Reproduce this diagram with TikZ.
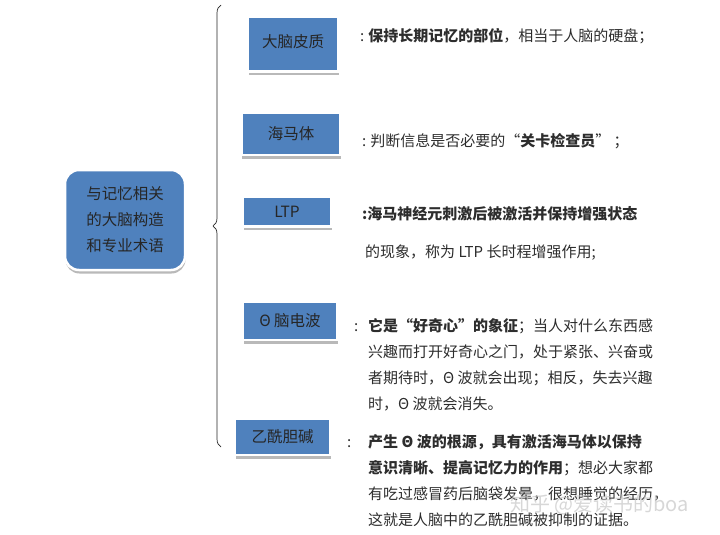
\documentclass[tikz,border=0pt]{standalone}
\usepackage{fontspec}
\setmainfont{Noto Sans CJK SC}
\usetikzlibrary{shadows,decorations.pathreplacing}
\definecolor{boxblue}{RGB}{79,129,189}
\definecolor{txtgray}{RGB}{45,45,45}

\begin{document}
\begin{tikzpicture}[x=1pt, y=-1pt,
    box/.style={fill=boxblue, draw=white, line width=2.5pt, inner sep=0pt, text=black!85, font=\fontsize{15.5}{26}\selectfont,
        drop shadow={shadow xshift=0.5pt, shadow yshift=-3.5pt, fill=gray!55, opacity=1}},
    rootbox/.style={box, rounded corners=14pt, align=center},
    desc/.style={anchor=north west, align=left, inner sep=0pt, text=txtgray, font=\fontsize{15}{26}\selectfont}
]
\useasboundingbox (0,0) rectangle (720,535);

% root topic
\node[rootbox, minimum width=120pt, minimum height=100pt] (root) at (125,220) {与记忆相关\\的大脑构造\\和专业术语};

% the brace
\coordinate (bt) at (221,5);
\coordinate (bb) at (221,447);
\draw[black!85, line width=0.7pt, decorate, decoration={brace, amplitude=8pt}] (bb) -- (bt);

% terms
\node[box, minimum width=90pt, minimum height=55pt] (cortex) at (293,44) {\raisebox{6pt}{大脑皮质}};
\node[box, minimum width=99pt, minimum height=42pt] (hippo) at (291,134) {海马体};
\node[box, minimum width=88pt, minimum height=30pt] (ltp) at (287,211.5) {LTP};
\node[box, minimum width=94pt, minimum height=38pt] (theta) at (290,321) {Θ 脑电波};
\node[box, minimum width=95pt, minimum height=36pt] (ach) at (282.5,437) {乙酰胆碱};

% explanations
\node[desc] (cortexd) at (360,28.5) {:\hspace{4pt}\textbf{保持长期记忆的部位}，相当于人脑的硬盘；};
\node[desc] (hippod) at (362,133.5) {:\hspace{4pt}判断信息是否必要的“\textbf{关卡检查员}”\ ；};
\node[desc] (ltpd) at (362,206.5) {\textbf{:海马神经元刺激后被激活并保持增强状态}\\[12pt]\hspace{3pt}的现象，称为 LTP 长时程增强作用;};
\node[desc] (thetad) at (368,318.5) {\llap{:\hspace{10pt}}\textbf{它是“好奇心”的象征}；当人对什么东西感\\兴趣而打开好奇心之门，处于紧张、兴奋或\\者期待时，Θ 波就会出现；相反，失去兴趣\\时，Θ 波就会消失。};
\node[desc] (achd) at (368,434.5) {\llap{:\hspace{17pt}}\textbf{产生 Θ 波的根源，具有激活海马体以保持}\\\textbf{意识清晰、提高记忆力的作用}；想必大家都\\有吃过感冒药后脑袋发晕，很想睡觉的经历，\\这就是人脑中的乙酰胆碱被抑制的证据。};

% watermark
\node[anchor=west, inner sep=0pt, text=gray!45, opacity=0.7, font=\fontsize{20}{20}\selectfont] (mark) at (510,505) {知乎 @爱读书的boa};
\end{tikzpicture}
\end{document}
